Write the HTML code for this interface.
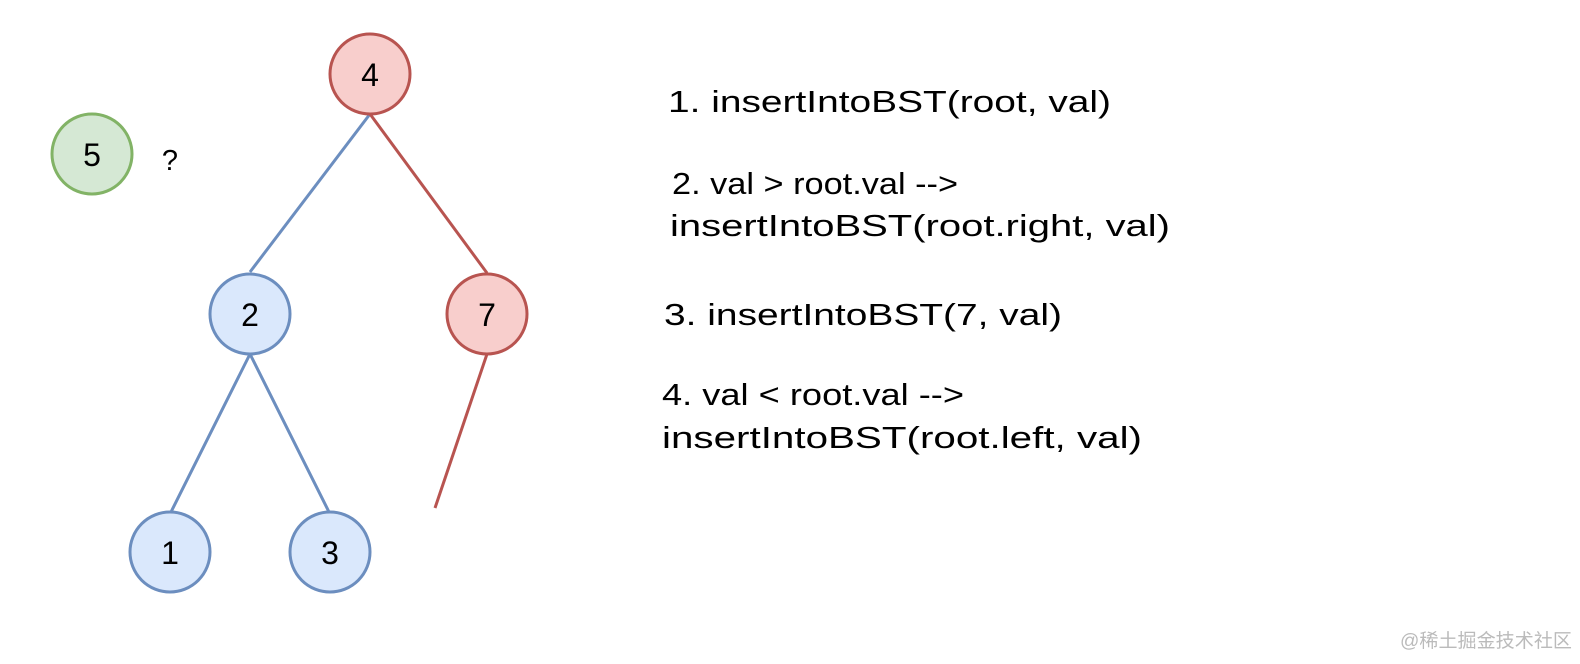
<!DOCTYPE html>
<html><head><meta charset="utf-8"><style>
html,body{margin:0;padding:0;background:#fff;}
svg{display:block}
text{font-family:"Liberation Sans",sans-serif;fill:#000}
</style></head><body>
<svg width="1580" height="664" viewBox="0 0 1580 664" xmlns="http://www.w3.org/2000/svg">
<g stroke-width="3" fill="none">
<line x1="370" y1="114" x2="250" y2="272" stroke="#6c8ebf"/>
<line x1="370" y1="114" x2="487" y2="273" stroke="#b85450"/>
<line x1="250" y1="354" x2="171" y2="512" stroke="#6c8ebf"/>
<line x1="250" y1="354" x2="329" y2="512" stroke="#6c8ebf"/>
<line x1="487" y1="354" x2="435" y2="508" stroke="#b85450"/>
</g>
<g stroke-width="3">
<circle cx="370" cy="74" r="40" fill="#f8cecc" stroke="#b85450"/>
<circle cx="92" cy="154" r="40" fill="#d5e8d4" stroke="#82b366"/>
<circle cx="250" cy="314" r="40" fill="#dae8fc" stroke="#6c8ebf"/>
<circle cx="487" cy="314" r="40" fill="#f8cecc" stroke="#b85450"/>
<circle cx="170" cy="552" r="40" fill="#dae8fc" stroke="#6c8ebf"/>
<circle cx="330" cy="552" r="40" fill="#dae8fc" stroke="#6c8ebf"/>
</g>
<g font-size="32" text-anchor="middle">
<text x="370" y="86">4</text>
<text x="92" y="166">5</text>
<text x="250" y="326">2</text>
<text x="487" y="326">7</text>
<text x="170" y="564">1</text>
<text x="330" y="564">3</text>
<text x="170" y="170" font-size="29">?</text>
</g>
<g font-size="31">
<text x="668" y="112" textLength="443" lengthAdjust="spacingAndGlyphs">1. insertIntoBST(root, val)</text>
<text x="672" y="194" textLength="286" lengthAdjust="spacingAndGlyphs">2. val &gt; root.val --&gt;</text>
<text x="670" y="236" textLength="500" lengthAdjust="spacingAndGlyphs">insertIntoBST(root.right, val)</text>
<text x="664" y="325" textLength="398" lengthAdjust="spacingAndGlyphs">3. insertIntoBST(7, val)</text>
<text x="662" y="405" textLength="302" lengthAdjust="spacingAndGlyphs">4. val &lt; root.val --&gt;</text>
<text x="662" y="448" textLength="480" lengthAdjust="spacingAndGlyphs">insertIntoBST(root.left, val)</text>
</g>
<text x="1400" y="647" font-size="19" textLength="172" lengthAdjust="spacingAndGlyphs" style="fill:#bbb;font-family:'Liberation Sans','Noto Sans CJK SC',sans-serif">@稀土掘金技术社区</text>
</svg>
</body></html>
